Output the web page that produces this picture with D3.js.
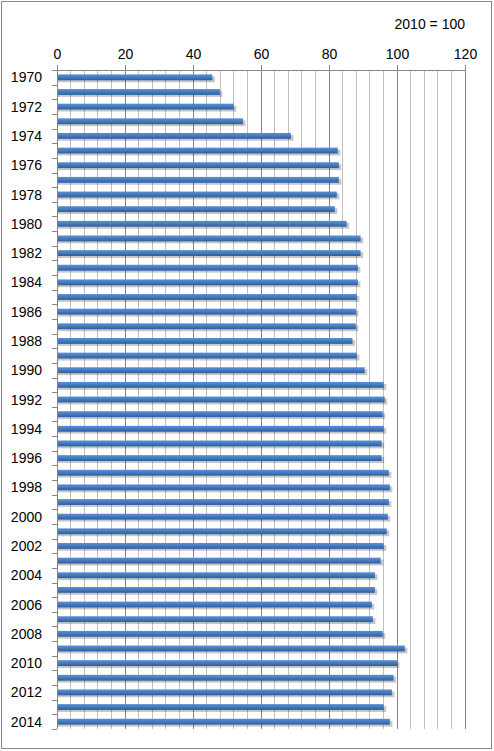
<!DOCTYPE html>
<html>
<head>
<meta charset="utf-8">
<script src="https://cdn.jsdelivr.net/npm/d3@7"></script>
<style>
  body { margin: 0; background: #fff; }
  text { font-family: "Liberation Sans", Arial, sans-serif; fill: #000; }
</style>
</head>
<body>
<div id="chart"></div>
<script>
// price index, 2010 = 100
const years = d3.range(1970, 2015);
const values = [
  45.7, 47.9, 52.0, 54.7, 68.8, 82.6, 82.9, 82.9, 82.3, 81.7,
  85.2, 89.3, 89.3, 88.5, 88.5, 88.2, 87.9, 87.9, 86.9, 88.2,
  90.5, 96.1, 96.4, 95.8, 96.1, 95.5, 95.5, 97.6, 97.9, 97.6,
  97.3, 97.0, 96.1, 95.2, 93.5, 93.5, 92.6, 92.9, 95.8, 102.3,
  100.0, 99.0, 98.5, 96.1, 97.9
];
const xTicks = [0, 20, 40, 60, 80, 100, 120];
const unitLabel = "2010 = 100";

const width = 494, height = 751;
const margin = { top: 70, right: 29, bottom: 22, left: 57 };

const svg = d3.select("#chart").append("svg")
  .attr("width", width)
  .attr("height", height);

// outer frame
svg.append("rect")
  .attr("x", 1.5).attr("y", 1.5)
  .attr("width", 490).attr("height", 747)
  .attr("fill", "#fff")
  .attr("stroke", "#868686");

const defs = svg.append("defs");
const grad = defs.append("linearGradient")
  .attr("id", "barGrad")
  .attr("x1", 0).attr("y1", 0).attr("x2", 0).attr("y2", 1);
grad.append("stop").attr("offset", "0%").attr("stop-color", "#5a8fd3");
grad.append("stop").attr("offset", "45%").attr("stop-color", "#467cc0");
grad.append("stop").attr("offset", "100%").attr("stop-color", "#2d5d9f");

const x = d3.scaleLinear()
  .domain([0, 120])
  .range([margin.left, width - margin.right]);

const y = d3.scaleBand()
  .domain(years)
  .range([margin.top, height - margin.bottom])
  .paddingInner(0.6)
  .paddingOuter(0.3);

const plotBottom = height - margin.bottom;

// gridlines every 4 units, major ones every 20
const g = svg.append("g");
d3.range(4, 121, 4).forEach(v => {
  g.append("line")
    .attr("x1", x(v)).attr("x2", x(v))
    .attr("y1", margin.top).attr("y2", plotBottom)
    .attr("stroke", v % 20 === 0 ? "#868686" : "#c0c0c0")
    .attr("stroke-width", 1)
    .attr("shape-rendering", "crispEdges");
});

// bar shadows
svg.append("g").selectAll("rect")
  .data(values)
  .enter()
  .append("rect")
  .attr("x", x(0) + 1)
  .attr("y", (d, i) => y(years[i]) + 2)
  .attr("width", d => x(d) - x(0) + 1.5)
  .attr("height", y.bandwidth())
  .attr("fill", "#000")
  .attr("opacity", 0.22);

// bars
svg.append("g").selectAll("rect")
  .data(values)
  .enter()
  .append("rect")
  .attr("x", x(0))
  .attr("y", (d, i) => y(years[i]))
  .attr("width", d => x(d) - x(0))
  .attr("height", y.bandwidth())
  .attr("fill", "url(#barGrad)");

// top axis
const xAxis = svg.append("g")
  .attr("transform", `translate(0,${margin.top})`)
  .call(d3.axisTop(x).tickValues(xTicks).tickSize(5).tickPadding(6));
xAxis.select(".domain").attr("stroke", "#868686").attr("d", `M${x(0)},0.5H${x(120)}`);
xAxis.selectAll(".tick line").attr("stroke", "#868686");
xAxis.selectAll(".tick text")
  .style("font-size", "14px")
  .style("font-family", "Liberation Sans, Arial, sans-serif")
  .attr("fill", "#000");

// left axis: tick at each category boundary, labels every other year
const boundaries = d3.range(years.length + 1);
const step = (plotBottom - margin.top) / years.length;
svg.append("g").selectAll("line")
  .data(boundaries)
  .enter()
  .append("line")
  .attr("x1", x(0) - 5).attr("x2", x(0))
  .attr("y1", d => Math.round(margin.top + d * step) + 0.5)
  .attr("y2", d => Math.round(margin.top + d * step) + 0.5)
  .attr("stroke", "#868686");

svg.append("line")
  .attr("x1", x(0) + 0.5).attr("x2", x(0) + 0.5)
  .attr("y1", margin.top).attr("y2", plotBottom)
  .attr("stroke", "#868686");

svg.append("g").selectAll("text")
  .data(years.filter(yr => yr % 2 === 0))
  .enter()
  .append("text")
  .attr("x", 42)
  .attr("y", d => y(d) + y.bandwidth() / 2)
  .attr("dy", "0.36em")
  .attr("text-anchor", "end")
  .style("font-size", "14px")
  .text(d => d);

svg.append("text")
  .attr("x", x(120))
  .attr("y", 29)
  .attr("text-anchor", "end")
  .style("font-size", "14px")
  .text(unitLabel);
</script>
</body>
</html>
